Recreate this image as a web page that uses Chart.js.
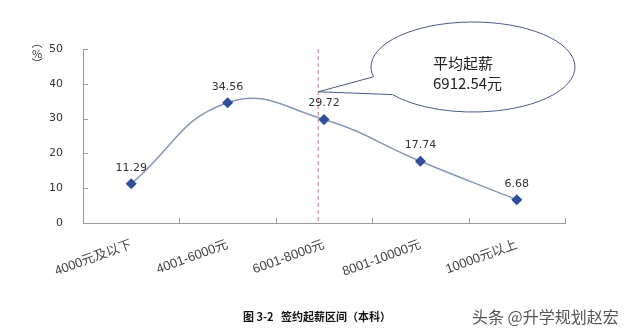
<!DOCTYPE html>
<html>
<head>
<meta charset="utf-8">
<script src="https://cdn.jsdelivr.net/npm/chart.js@4"></script>
<style>
  body { margin: 0; background: #fff; }
  #wrap { position: relative; width: 628px; height: 333px; }
  .cap { position: absolute; font-family: "Noto Sans CJK SC", sans-serif; white-space: nowrap; }
</style>
</head>
<body>
<div id="wrap">
  <canvas id="chart" width="628" height="333"></canvas>
  <div class="cap" style="left:243px;top:308px;font-size:11px;font-weight:bold;color:#111;">图 3-2&nbsp;&nbsp;&nbsp;签约起薪区间（本科）</div>
  <div class="cap" style="left:472px;top:304px;font-size:16px;color:#555;">头条 @升学规划赵宏</div>
</div>
<script>
// salary ranges and share of graduates (%)
var categories = ['4000元及以下', '4001-6000元', '6001-8000元', '8001-10000元', '10000元以上'];
var shares = [11.29, 34.56, 29.72, 17.74, 6.68];
var yTicks = [0, 10, 20, 30, 40, 50];

// average starting salary, position on the category axis
var avgSalaryText = ['平均起薪', '6912.54元'];
var avgPos = 1.94;
var calloutTipValue = 37.7;

// draws inner tick marks, value labels, the dashed average line and the callout
var extras = {
    id: 'extras',
    afterDatasetsDraw: function(chart) {
        var ctx = chart.ctx;
        var x = chart.scales.x, y = chart.scales.y;
        var area = chart.chartArea;
        ctx.save();

        // tick marks pointing into the plot
        ctx.strokeStyle = '#999';
        ctx.lineWidth = 1;
        yTicks.forEach(function(t) {
            var py = Math.round(y.getPixelForValue(t)) + 0.5;
            ctx.beginPath(); ctx.moveTo(area.left, py); ctx.lineTo(area.left + 5, py); ctx.stroke();
        });
        var step = x.getPixelForValue(1) - x.getPixelForValue(0);
        for (var i = 0; i <= categories.length; i++) {
            var px = Math.round(x.getPixelForValue(0) - step / 2 + i * step) + 0.5;
            ctx.beginPath(); ctx.moveTo(px, area.bottom); ctx.lineTo(px, area.bottom - 5); ctx.stroke();
        }

        // dashed line for the average
        var ax = x.getPixelForValue(0) + avgPos * step;
        ctx.strokeStyle = '#e07070';
        ctx.setLineDash([4, 3]);
        ctx.beginPath(); ctx.moveTo(ax, area.top); ctx.lineTo(ax, area.bottom); ctx.stroke();
        ctx.setLineDash([]);

        // value labels
        var meta = chart.getDatasetMeta(0);
        ctx.fillStyle = '#333';
        ctx.font = '11px "DejaVu Sans", sans-serif';
        ctx.textAlign = 'center';
        ctx.textBaseline = 'middle';
        meta.data.forEach(function(pt, k) {
            ctx.fillText(shares[k].toFixed(2), pt.x, pt.y - 16);
        });

        // speech bubble
        var tipY = y.getPixelForValue(calloutTipValue);
        var cx = 473, cy = 67, rx = 102, ry = 45;
        var a1 = Math.PI * 0.93, a2 = Math.PI * 0.79;
        ctx.strokeStyle = '#4a5a8a';
        ctx.lineWidth = 1;
        ctx.beginPath();
        ctx.ellipse(cx, cy, rx, ry, 0, a1, a2 + 2 * Math.PI);
        ctx.stroke();
        ctx.beginPath();
        ctx.moveTo(cx + rx * Math.cos(a2), cy + ry * Math.sin(a2));
        ctx.lineTo(ax, tipY);
        ctx.lineTo(cx + rx * Math.cos(a1), cy + ry * Math.sin(a1));
        ctx.stroke();

        ctx.fillStyle = '#222';
        ctx.font = '15px "Noto Sans CJK SC", sans-serif';
        ctx.textAlign = 'left';
        ctx.textBaseline = 'middle';
        ctx.fillText(avgSalaryText[0], 433, 63);
        ctx.fillText(avgSalaryText[1], 433, 83);

        // vertical unit label
        ctx.fillStyle = '#333';
        ctx.font = '11px "Noto Sans CJK SC", sans-serif';
        ctx.textAlign = 'center';
        ctx.fillText('︵', 37, 43);
        ctx.fillText('%', 37, 54);
        ctx.fillText('︶', 37, 64);
        ctx.restore();
    }
};

var ctx = document.getElementById('chart').getContext('2d');
var myChart = new Chart(ctx, {
    type: 'line',
    data: {
        labels: categories,
        datasets: [{
            data: shares,
            borderColor: '#8797b8',
            borderWidth: 1.5,
            tension: 0.45,
            pointStyle: 'rectRot',
            pointRadius: 4.5,
            pointBackgroundColor: '#2f4f9c',
            pointBorderColor: '#2f4f9c',
            fill: false
        }]
    },
    options: {
        responsive: false,
        animation: false,
        layout: { padding: { left: 50, right: 63, top: 49, bottom: 0 } },
        plugins: { legend: { display: false }, tooltip: { enabled: false } },
        scales: {
            x: {
                offset: true,
                grid: { display: false, offset: true },
                border: { color: '#999' },
                ticks: {
                    color: '#444',
                    font: { family: '"Liberation Sans", "Noto Sans CJK SC", sans-serif', size: 13 },
                    minRotation: 20, maxRotation: 20, padding: 6
                },
                afterFit: function(s) { s.height = 110; }
            },
            y: {
                min: 0, max: 50,
                grid: { display: false },
                border: { color: '#999' },
                ticks: {
                    stepSize: 10, color: '#333', padding: 12,
                    font: { family: '"DejaVu Sans", sans-serif', size: 11 }
                },
                afterFit: function(s) { s.width = 33; }
            }
        }
    },
    plugins: [extras]
});
</script>
</body>
</html>
